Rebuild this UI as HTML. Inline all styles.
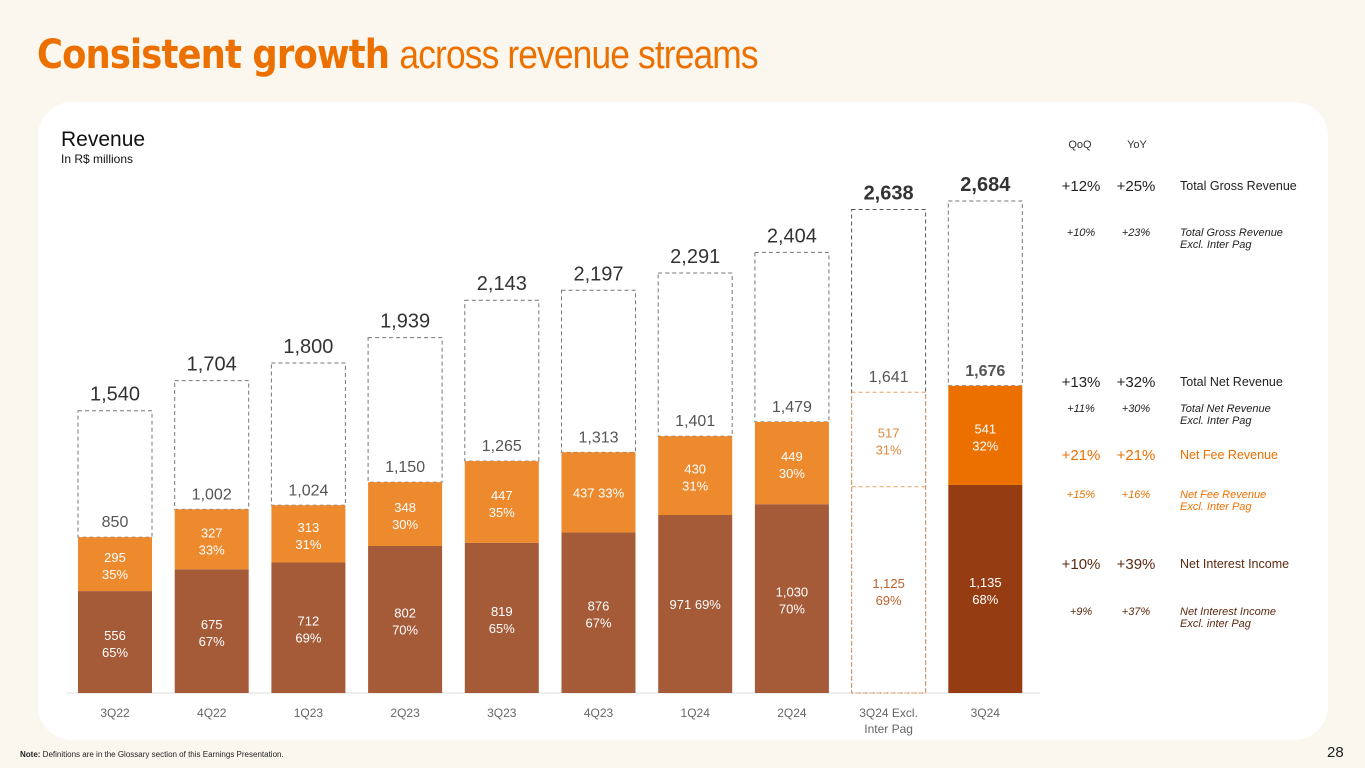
<!DOCTYPE html>
<html><head><meta charset="utf-8"><style>
html,body{margin:0;padding:0;width:1365px;height:768px;background:#FCF7EE;overflow:hidden;font-family:"Liberation Sans",sans-serif}
.t{position:absolute}
</style></head><body>
<div class="t" style="left:37px;top:32px;font-size:40px;color:#EC7000;letter-spacing:-1px;font-family:'DejaVu Sans','Liberation Sans',sans-serif;transform:scaleX(0.885);transform-origin:left"><b>Consistent growth</b> <span style="font-weight:300;font-family:'Liberation Sans',sans-serif">across revenue streams</span></div>
<div class="t" style="left:38px;top:102px;width:1290px;height:638px;background:#fff;border-radius:34px"></div>
<div class="t" style="left:61px;top:128px;font-size:21px;color:#111">Revenue</div>
<div class="t" style="left:61px;top:152px;font-size:12px;color:#111">In R$ millions</div>
<svg class="t" style="left:0;top:0" width="1365" height="768" id="chart"></svg>
<div class="t" style="left:20px;top:750px;font-size:8px;color:#222"><b>Note:</b> Definitions are in the Glossary section of this Earnings Presentation.</div>
<div class="t" style="left:1327px;top:744px;font-size:15px;color:#222">28</div>
<script>
const categories=["3Q22","4Q22","1Q23","2Q23","3Q23","4Q23","1Q24","2Q24","3Q24 Excl.|Inter Pag","3Q24"];
const grossRevenue=[1540,1704,1800,1939,2143,2197,2291,2404,2638,2684];
const netRevenue=[850,1002,1024,1150,1265,1313,1401,1479,1641,1676];
const netInterest=[556,675,712,802,819,876,971,1030,1125,1135];
const netFee=[295,327,313,348,447,437,430,449,517,541];
const interestPct=["65%","67%","69%","70%","65%","67%","69%","70%","69%","68%"];
const feePct=["35%","33%","31%","30%","35%","33%","31%","30%","31%","32%"];
const NS="http://www.w3.org/2000/svg";
const svg=document.getElementById('chart');
const base=693, k=0.1833, x0=78, step=96.7, bw=74;
const y=v=>base-v*k;
const xs=i=>x0+i*step;
function el(t,a,p){const e=document.createElementNS(NS,t);for(const n in a)e.setAttribute(n,a[n]);(p||svg).appendChild(e);return e;}
function txt(x,yy,s,size,fill,w,anchor){const e=el('text',{x:x,y:yy,'font-size':size,fill:fill,'text-anchor':anchor||'middle','font-weight':w||'normal','font-family':'Liberation Sans, sans-serif'});e.textContent=s;return e;}
const ax=el('line',{x1:67,x2:1040,y1:base,y2:base,stroke:'#ddd','stroke-width':1});


categories.forEach((c,i)=>{
  const x=xs(i), cx=x+bw/2, last=i===9, excl=i===8;
  const g=el('g',{});
  
  
  const yi=y(netInterest[i]), yn=y(netRevenue[i]), yg=y(grossRevenue[i]);
  if(excl){
    el('rect',{x:x,y:yg,width:bw,height:base-yg,fill:'none',stroke:'#555','stroke-dasharray':'4,3'},g);
    el('rect',{x:x,y:yn,width:bw,height:base-yn,fill:'none',stroke:'#E8A060','stroke-dasharray':'4,3'},g);
    el('line',{x1:x,x2:x+bw,y1:yi,y2:yi,stroke:'#E8A060','stroke-dasharray':'4,3'},g);
  }else{
    el('rect',{x:x,y:yg,width:bw,height:yn-yg,fill:'none',stroke:'#777','stroke-dasharray':'4,3'},g);
    el('rect',{x:x,y:yi,width:bw,height:base-yi,fill:last?'#963C12':'#A65B38'},g);
    el('rect',{x:x,y:yn,width:bw,height:yi-yn,fill:last?'#EC7000':'#EE8A2E'},g);
  }
  const lc=excl?'#C0622A':'#fff', fc=excl?'#E08A3C':'#fff';
  const bold=i>=8?'bold':'normal';
  txt(cx,yg-10,grossRevenue[i].toLocaleString('en-US'),20,'#333',bold);
  txt(cx,yn-10,netRevenue[i].toLocaleString('en-US'),16,'#555',last?'bold':'normal');
  const fm=(yn+yi)/2, im=(yi+base)/2;
  if(i===5){txt(cx,fm+5,netFee[i]+' '+feePct[i],13,fc);}else{txt(cx,fm-2,netFee[i],13,fc);txt(cx,fm+15,feePct[i],13,fc);}
  if(i===6){txt(cx,im+5,netInterest[i]+' '+interestPct[i],13,lc);}else{txt(cx,im-2,netInterest[i].toLocaleString('en-US'),13,lc);txt(cx,im+15,interestPct[i],13,lc);}
  const parts=c.split('|');
  parts.forEach((p,j)=>txt(cx,717+j*16,p,12,'#666'));
});
const rows=[
 [191,'+12%','+25%','Total Gross Revenue','#222',15,false],
 [236,'+10%','+23%','Total Gross Revenue|Excl. Inter Pag','#222',11,true],
 [387,'+13%','+32%','Total Net Revenue','#222',15,false],
 [412,'+11%','+30%','Total Net Revenue|Excl. Inter Pag','#222',11,true],
 [460,'+21%','+21%','Net Fee Revenue','#EC7000',15,false],
 [498,'+15%','+16%','Net Fee Revenue|Excl. Inter Pag','#EC7000',11,true],
 [569,'+10%','+39%','Net Interest Income','#5a2a10',15,false],
 [615,'+9%','+37%','Net Interest Income|Excl. inter Pag','#5a2a10',11,true]
];
txt(1080,148,'QoQ',11,'#333');txt(1137,148,'YoY',11,'#333');
rows.forEach(r=>{
  const g=el('g',{});
  
  
  const a=txt(1081,r[0],r[1],r[5],r[4]);g.appendChild(a);
  const b=txt(1136,r[0],r[2],r[5],r[4]);g.appendChild(b);
  r[3].split('|').forEach((s,j)=>{const t=txt(1180,r[0]+j*12-(r[6]?0:1),s,r[6]?11:12.5,r[4],'normal','start');if(r[6])t.setAttribute('font-style','italic');g.appendChild(t);});
  if(r[6]){a.setAttribute('font-style','italic');b.setAttribute('font-style','italic');}
});
</script>
</body></html>
